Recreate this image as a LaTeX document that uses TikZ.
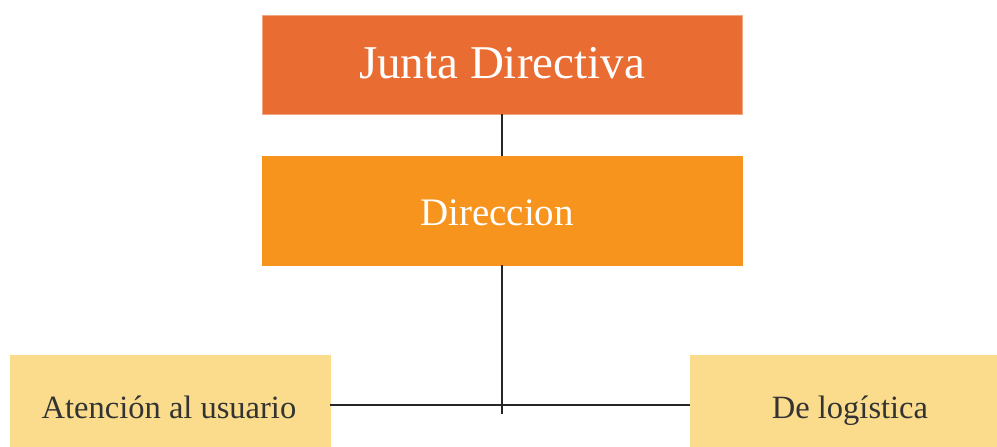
\documentclass[tikz,border=0pt]{standalone}
\usepackage{fontspec}
\setmainfont{Liberation Serif}
\definecolor{juntac}{HTML}{E96D32}
\definecolor{dirc}{HTML}{F7941D}
\definecolor{subc}{HTML}{FADC8C}
\definecolor{txtc}{HTML}{333333}
\tikzset{
  boxbase/.style={rectangle, inner sep=0, outer sep=0, line width=0.8pt, anchor=north west},
  boxa/.style={boxbase, fill=juntac, draw=juntac!60!white},
  boxb/.style={boxbase, fill=dirc, draw=dirc},
  boxc/.style={boxbase, fill=subc, draw=subc},
  conn/.style={draw=black!85, line width=1.6pt},
  lbl/.style={anchor=base, inner sep=0},
}
\begin{document}
\begin{tikzpicture}[x=1pt,y=-1pt]
\useasboundingbox (0,0) rectangle (997,447);
% boxes
\node[boxa, minimum width=480pt, minimum height=99pt] (juntabox) at (262,15) {};
\node[boxb, minimum width=480pt, minimum height=109pt] (dirbox) at (262,156) {};
\node[boxc, minimum width=320pt, minimum height=95pt] (atenbox) at (10,355) {};
\node[boxc, minimum width=310pt, minimum height=95pt] (logibox) at (690,355) {};
\coordinate (dend) at (502,414);
\coordinate (al) at (330,405);
\coordinate (lr) at (690,405);
% texts
\node[lbl, text=white, font=\fontsize{47}{50}\selectfont] (junta) at (502,78) {Junta Directiva};
\node[lbl, text=white, font=\fontsize{39}{42}\selectfont] (dir) at (497,225) {Direccion};
\node[lbl, text=txtc, font=\fontsize{32.5}{35}\selectfont] (aten) at (169,418) {Atención al usuario};
\node[lbl, text=txtc, font=\fontsize{32.5}{35}\selectfont] (logi) at (850,418) {De logística};
% connectors
\draw[conn] (juntabox.south) -- (dirbox.north);
\draw[conn] (dirbox.south) -- (dend);
\draw[conn] (al) -- (lr);
\end{tikzpicture}
\end{document}
